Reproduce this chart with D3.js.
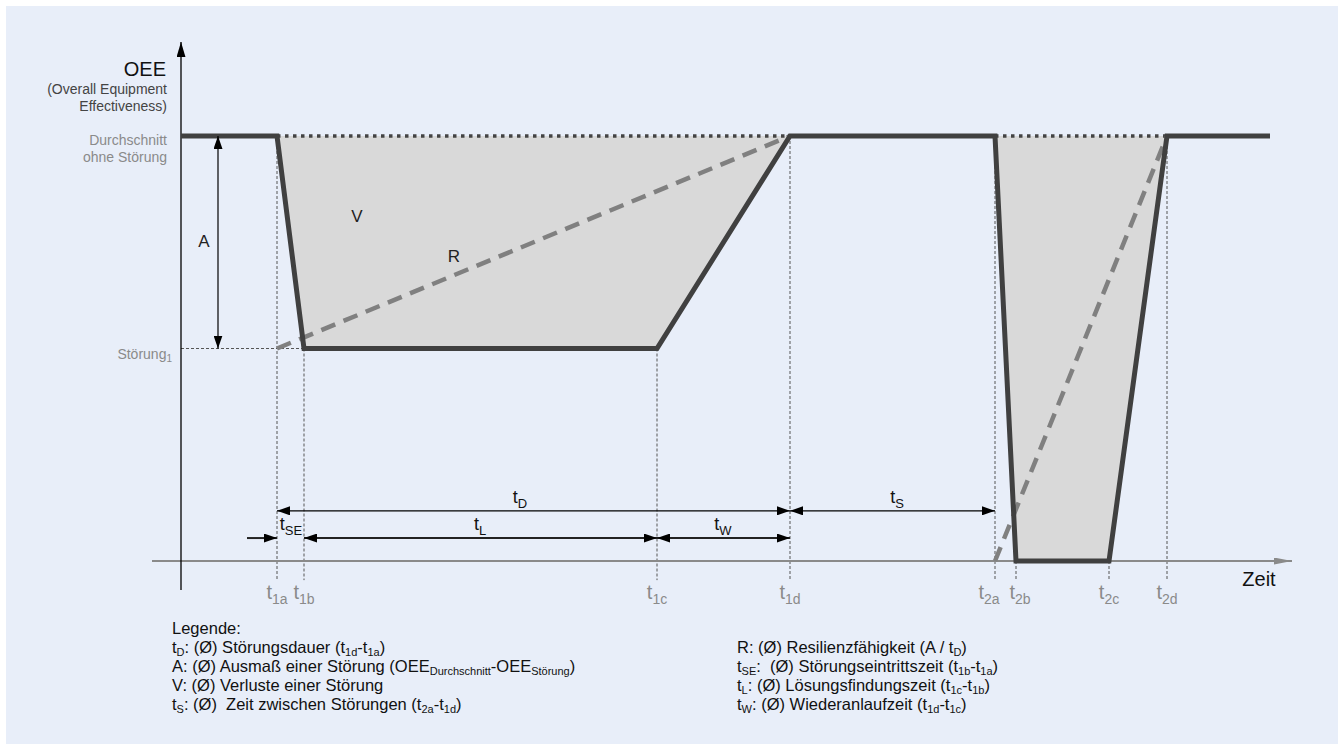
<!DOCTYPE html>
<html>
<head>
<meta charset="utf-8">
<script src="https://cdn.jsdelivr.net/npm/d3@7"></script>
<style>
  body { margin: 0; background: #ffffff; }
  svg { display: block; font-family: "Liberation Sans", Arial, sans-serif; }
  text { white-space: pre; }
</style>
</head>
<body>
<svg id="chart" width="1341" height="744"></svg>
<script>
// time points on the x axis (abstract time units) and their sub labels
const timeLabels = ["1a", "1b", "1c", "1d", "2a", "2b", "2c", "2d"];
const timeValues = [9.6, 12.3, 47.6, 60.9, 81.4, 83.5, 92.8, 98.6];
// small nudges so crowded labels do not collide (time units)
const labelShift = [0, 0, 0, 0, -0.6, 0.4, 0, 0];
// where each vertical guide starts (OEE value of the curve there)
const guideTop = [100, 50, 50, 100, 100, 0, 0, 100];

// OEE levels
const oeeAverage = 100;
const oeeStoerung1 = 50;

// the OEE curve
const curveTime = [0, 9.6, 12.3, 47.6, 60.9, 81.4, 83.5, 92.8, 98.6, 108.9];
const curveOEE = [100, 100, 50, 50, 100, 100, 0, 0, 100, 100];

// loss areas (V) for the two disruptions
const loss1Time = [9.6, 12.3, 47.6, 60.9];
const loss1OEE = [100, 50, 50, 100];
const loss2Time = [81.4, 83.5, 92.8, 98.6];
const loss2OEE = [100, 0, 0, 100];

// resilience lines R
const rLines = [
  { t0: 9.6, v0: 50, t1: 60.9, v1: 100 },
  { t0: 81.4, v0: 0, t1: 98.6, v1: 100 }
];

// duration arrows: start, end, row, heads, label sub, label x
const spans = [
  { from: 9.6, to: 60.9, row: 1, heads: "both", sub: "D", lx: 33.9 },
  { from: 60.9, to: 81.4, row: 1, heads: "both", sub: "S", lx: 71.6 },
  { from: 6.6, to: 9.6, row: 2, heads: "end", sub: "SE", lx: 11.0 },
  { from: 12.3, to: 47.6, row: 2, heads: "both", sub: "L", lx: 29.9 },
  { from: 47.6, to: 60.9, row: 2, heads: "both", sub: "W", lx: 54.2 }
];
const rowOEE = { 1: 11.8, 2: 5.4 };

const legendLeft = [
  [["Legende:"]],
  [["t"], ["D", 1], [": (Ø) Störungsdauer (t"], ["1d", 1], ["-t"], ["1a", 1], [")"]],
  [["A: (Ø) Ausmaß einer Störung (OEE"], ["Durchschnitt", 1], ["-OEE"], ["Störung", 1], [")"]],
  [["V: (Ø) Verluste einer Störung"]],
  [["t"], ["S", 1], [": (Ø)  Zeit zwischen Störungen (t"], ["2a", 1], ["-t"], ["1d", 1], [")"]]
];
const legendRight = [
  [["R: (Ø) Resilienzfähigkeit (A / t"], ["D", 1], [")"]],
  [["t"], ["SE", 1], [":  (Ø) Störungseintrittszeit (t"], ["1b", 1], ["-t"], ["1a", 1], [")"]],
  [["t"], ["L", 1], [": (Ø) Lösungsfindungszeit (t"], ["1c", 1], ["-t"], ["1b", 1], [")"]],
  [["t"], ["W", 1], [": (Ø) Wiederanlaufzeit (t"], ["1d", 1], ["-t"], ["1c", 1], [")"]]
];

const svg = d3.select("#chart");

// panel background
svg.append("rect")
  .attr("x", 6).attr("y", 6)
  .attr("width", 1332).attr("height", 738)
  .attr("fill", "#e8eef9");

const x = d3.scaleLinear().domain([0, 111]).range([181, 1291]);
const y = d3.scaleLinear().domain([0, 100]).range([561, 136]);

// arrow markers
const defs = svg.append("defs");
function marker(id, color, len, half) {
  defs.append("marker")
    .attr("id", id)
    .attr("viewBox", `0 ${-half} ${len} ${half * 2}`)
    .attr("refX", len).attr("refY", 0)
    .attr("markerUnits", "userSpaceOnUse")
    .attr("markerWidth", len).attr("markerHeight", half * 2)
    .attr("orient", "auto-start-reverse")
    .append("path")
    .attr("d", `M0,${-half}L${len},0L0,${half}Z`)
    .attr("fill", color);
}
marker("head", "#000", 13, 4.5);
marker("headGray", "#8a8a8a", 18, 3.5);
marker("headAxis", "#000", 15, 4.5);

// helper for text with subscripts
function richText(sel, px, py, parts, size, subSize, subDy, color, anchor) {
  const t = sel.append("text")
    .attr("x", px).attr("y", py)
    .attr("font-size", size)
    .attr("fill", color)
    .attr("text-anchor", anchor || "start");
  let shifted = false;
  parts.forEach(p => {
    const isSub = p[1] === 1;
    const span = t.append("tspan").text(p[0]);
    if (isSub) {
      span.attr("font-size", subSize).attr("dy", shifted ? 0 : subDy);
      shifted = true;
    } else {
      span.attr("dy", shifted ? -subDy : 0);
      shifted = false;
    }
  });
  return t;
}

// loss areas
const area = d3.line().x(d => x(d[0])).y(d => y(d[1]));
[[loss1Time, loss1OEE], [loss2Time, loss2OEE]].forEach(([ts, vs]) => {
  svg.append("path")
    .attr("d", area(ts.map((t, i) => [t, vs[i]])) + "Z")
    .attr("fill", "#d9d9d9");
});

// vertical guide lines
timeValues.forEach((t, i) => {
  svg.append("line")
    .attr("x1", x(t)).attr("x2", x(t))
    .attr("y1", y(guideTop[i])).attr("y2", y(-4.5))
    .attr("stroke", "#555").attr("stroke-width", 1)
    .attr("stroke-dasharray", "3,2");
});

// Störung1 horizontal guide
svg.append("line")
  .attr("x1", x(0)).attr("x2", x(timeValues[1]))
  .attr("y1", y(oeeStoerung1)).attr("y2", y(oeeStoerung1))
  .attr("stroke", "#555").attr("stroke-width", 1)
  .attr("stroke-dasharray", "3,2");

// dotted average lines over the disruptions
[[timeValues[0], timeValues[3]], [timeValues[4], timeValues[7]]].forEach(([a, b]) => {
  svg.append("line")
    .attr("x1", x(a)).attr("x2", x(b))
    .attr("y1", y(oeeAverage)).attr("y2", y(oeeAverage))
    .attr("stroke", "#444").attr("stroke-width", 3.5)
    .attr("stroke-dasharray", "3.5,4.5");
});

// x axis
svg.append("line")
  .attr("x1", x(-2.9)).attr("x2", x(111.1))
  .attr("y1", y(0)).attr("y2", y(0))
  .attr("stroke", "#8a8a8a").attr("stroke-width", 2)
  .attr("marker-end", "url(#headGray)");

// y axis
svg.append("line")
  .attr("x1", x(0)).attr("x2", x(0))
  .attr("y1", y(-6.8)).attr("y2", y(122.1))
  .attr("stroke", "#000").attr("stroke-width", 1.3)
  .attr("marker-end", "url(#headAxis)");

// resilience lines
rLines.forEach(r => {
  svg.append("line")
    .attr("x1", x(r.t0)).attr("y1", y(r.v0))
    .attr("x2", x(r.t1)).attr("y2", y(r.v1))
    .attr("stroke", "#808080").attr("stroke-width", 4.5)
    .attr("stroke-dasharray", "15,9");
});

// OEE curve
svg.append("path")
  .attr("d", area(curveTime.map((t, i) => [t, curveOEE[i]])))
  .attr("fill", "none")
  .attr("stroke", "#404040").attr("stroke-width", 5)
  .attr("stroke-linejoin", "miter");

// A arrow
svg.append("line")
  .attr("x1", x(3.7)).attr("x2", x(3.7))
  .attr("y1", y(oeeAverage)).attr("y2", y(oeeStoerung1))
  .attr("stroke", "#000").attr("stroke-width", 1.2)
  .attr("marker-start", "url(#head)").attr("marker-end", "url(#head)");
svg.append("text").attr("x", 204).attr("y", 247)
  .attr("font-size", 17).attr("fill", "#222").attr("text-anchor", "middle").text("A");

// V and R labels
svg.append("text").attr("x", 357).attr("y", 222)
  .attr("font-size", 17).attr("fill", "#222").attr("text-anchor", "middle").text("V");
svg.append("text").attr("x", 454).attr("y", 262)
  .attr("font-size", 17).attr("fill", "#222").attr("text-anchor", "middle").text("R");

// duration arrows
spans.forEach(s => {
  const ry = y(rowOEE[s.row]);
  svg.append("line")
    .attr("x1", x(s.from)).attr("x2", x(s.to))
    .attr("y1", ry).attr("y2", ry)
    .attr("stroke", s.row === 1 ? "#000" : "#222")
    .attr("stroke-width", s.row === 1 ? 1.4 : 2)
    .attr("marker-start", s.heads === "both" ? "url(#head)" : null)
    .attr("marker-end", "url(#head)");
  richText(svg, x(s.lx), ry - 8, [["t"], [s.sub, 1]], 18, 13, 5, "#111", "middle");
});

// time tick labels
timeValues.forEach((t, i) => {
  richText(svg, x(t + labelShift[i]), 599, [["t"], [timeLabels[i], 1]], 20, 14, 5, "#8a8a8a", "middle");
});

// axis titles
svg.append("text").attr("x", 166).attr("y", 76)
  .attr("font-size", 20).attr("fill", "#111").attr("text-anchor", "end").text("OEE");
svg.append("text").attr("x", 167).attr("y", 94)
  .attr("font-size", 14).attr("fill", "#444").attr("text-anchor", "end").text("(Overall Equipment");
svg.append("text").attr("x", 167).attr("y", 111)
  .attr("font-size", 14).attr("fill", "#444").attr("text-anchor", "end").text("Effectiveness)");
svg.append("text").attr("x", 167).attr("y", y(oeeAverage) + 9)
  .attr("font-size", 14).attr("fill", "#8a8a8a").attr("text-anchor", "end").text("Durchschnitt");
svg.append("text").attr("x", 167).attr("y", y(oeeAverage) + 26)
  .attr("font-size", 14).attr("fill", "#8a8a8a").attr("text-anchor", "end").text("ohne Störung");
richText(svg, 172, y(oeeStoerung1) + 10, [["Störung"], ["1", 1]], 14, 10, 3, "#8a8a8a", "end");
svg.append("text").attr("x", 1259).attr("y", 586)
  .attr("font-size", 20).attr("fill", "#111").attr("text-anchor", "middle").text("Zeit");

// legend
legendLeft.forEach((parts, i) => {
  richText(svg, 172, 634 + i * 19, parts, 16.5, 11, 3, "#111");
});
legendRight.forEach((parts, i) => {
  richText(svg, 737, 653 + i * 19, parts, 16.5, 11, 3, "#111");
});
</script>
</body>
</html>
